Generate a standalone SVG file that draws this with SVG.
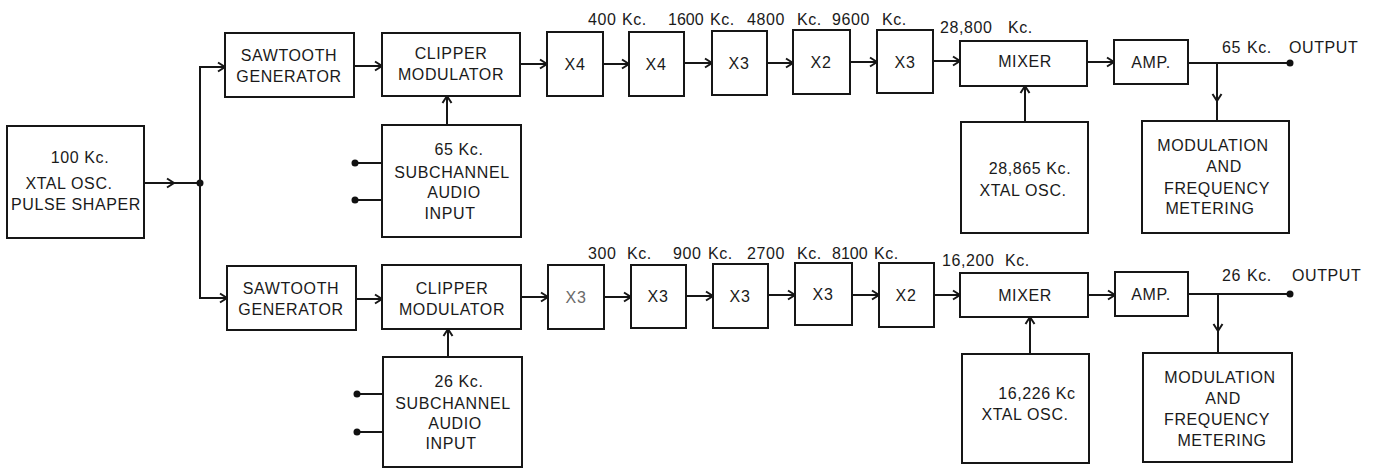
<svg xmlns="http://www.w3.org/2000/svg" width="1375" height="469" viewBox="0 0 1375 469">
<defs>
<marker id="ah" markerUnits="userSpaceOnUse" markerWidth="12" markerHeight="12" viewBox="0 0 12 12" refX="9" refY="6" orient="auto">
<path d="M2,1.5 L9,6 L2,10.5" fill="none" stroke="#161616" stroke-width="2"/>
</marker>
<style>
rect{fill:#fff;stroke:#161616;stroke-width:2}
text{font-family:"Liberation Sans",Arial,sans-serif;font-size:16px;fill:#1a1a1a;letter-spacing:0.6px}
.c{text-anchor:middle}
.n{letter-spacing:0}
.gray{fill:#6a6a6a}
.ln{fill:none;stroke:#161616;stroke-width:2}
.ar{fill:none;stroke:#161616;stroke-width:2;marker-end:url(#ah)}
.am{fill:none;stroke:#161616;stroke-width:2;marker-mid:url(#ah)}
.dot{fill:#111}
</style>
</defs>
<rect x="0" y="0" width="1375" height="469" style="fill:#fff;stroke:none"/>

<g id="connectors">
<path class="am" d="M144,183 L174,183 L200,183"/>
<circle class="dot" cx="200" cy="183" r="3.5"/>
<path class="ar" d="M200,183 V67 H225"/>
<path class="ar" d="M200,183 V298 H227"/>
<path class="ar" d="M354,66 H382"/>
<path class="ar" d="M447,125 V96"/>
<path class="ln" d="M355,163 H382 M355,200 H382"/>
<circle class="dot" cx="355" cy="163" r="3.5"/>
<circle class="dot" cx="355" cy="200" r="3.5"/>
<path class="ar" d="M520,64 H547"/>
<path class="ar" d="M603,64 H629"/>
<path class="ar" d="M684,63 H712"/>
<path class="ar" d="M767,63 H793"/>
<path class="ar" d="M850,62 H877"/>
<path class="ar" d="M933,61 H960"/>
<path class="ar" d="M1087,62 H1114"/>
<path class="ar" d="M1025,122 V86"/>
<path class="ln" d="M1188,63 H1290"/>
<circle class="dot" cx="1290" cy="63" r="3.5"/>
<path class="am" d="M1217,63 L1217,101 L1217,121"/>
<path class="ar" d="M356,299 H382"/>
<path class="ar" d="M448,357 V329"/>
<path class="ln" d="M357,394 H383 M357,432 H383"/>
<circle class="dot" cx="357" cy="394" r="3.5"/>
<circle class="dot" cx="357" cy="432" r="3.5"/>
<path class="ar" d="M521,297 H548"/>
<path class="ar" d="M604,297 H631"/>
<path class="ar" d="M686,296 H713"/>
<path class="ar" d="M768,295 H795"/>
<path class="ar" d="M852,295 H879"/>
<path class="ar" d="M934,295 H960"/>
<path class="ar" d="M1088,295 H1115"/>
<path class="ar" d="M1030,354 V317"/>
<path class="ln" d="M1188,294 H1290"/>
<circle class="dot" cx="1290" cy="294" r="3.5"/>
<path class="am" d="M1218,294 L1218,331 L1218,353"/>
</g>

<g id="pulse-shaper">
<rect x="7" y="126" width="137" height="112"/>
<text class="c" x="80" y="163">100 Kc.</text>
<text class="c" x="69" y="189">XTAL OSC.</text>
<text class="c" x="76" y="210">PULSE SHAPER</text>
</g>

<g id="sawtooth-1">
<rect x="225" y="33" width="129" height="64"/>
<text class="c" x="289" y="61">SAWTOOTH</text>
<text class="c" x="289" y="82">GENERATOR</text>
</g>
<g id="clipper-1">
<rect x="382" y="33" width="138" height="63"/>
<text class="c" x="451" y="59">CLIPPER</text>
<text class="c" x="451" y="80">MODULATOR</text>
</g>
<g id="subchannel-1">
<rect x="382" y="125" width="139" height="112"/>
<text class="c" x="459" y="155">65 Kc.</text>
<text class="c" x="452" y="178">SUBCHANNEL</text>
<text class="c" x="454" y="198">AUDIO</text>
<text class="c" x="450" y="219">INPUT</text>
</g>
<g id="mult-1a"><rect x="547" y="32" width="56" height="64"/><text class="c" x="575" y="70">X4</text></g>
<g id="mult-1b"><rect x="629" y="32" width="55" height="64"/><text class="c" x="656" y="70">X4</text></g>
<g id="mult-1c"><rect x="712" y="31" width="55" height="64"/><text class="c" x="739" y="69">X3</text></g>
<g id="mult-1d"><rect x="793" y="30" width="57" height="64"/><text class="c" x="821" y="68">X2</text></g>
<g id="mult-1e"><rect x="877" y="30" width="56" height="63"/><text class="c" x="905" y="68">X3</text></g>
<g id="freq-labels-1">
<text y="25"><tspan x="588">400</tspan><tspan x="622">Kc.</tspan></text>
<text y="25"><tspan class="n" x="668">1600</tspan><tspan x="710">Kc.</tspan></text>
<text y="25"><tspan x="747">4800</tspan><tspan x="797">Kc.</tspan></text>
<text y="25"><tspan x="832">9600</tspan><tspan x="882">Kc.</tspan></text>
<text y="33"><tspan x="940">28,800</tspan><tspan x="1008">Kc.</tspan></text>
<text y="53"><tspan x="1222">65</tspan><tspan x="1247">Kc.</tspan><tspan x="1289">OUTPUT</tspan></text>
</g>
<g id="mixer-1">
<rect x="960" y="41" width="127" height="45"/>
<text class="c" x="1025" y="67">MIXER</text>
</g>
<g id="amp-1">
<rect x="1114" y="40" width="74" height="44"/>
<text class="c" x="1151" y="68">AMP.</text>
</g>
<g id="xtal-1">
<rect x="961" y="122" width="127" height="111"/>
<text class="c" x="1030" y="174">28,865 Kc.</text>
<text class="c" x="1023" y="196">XTAL OSC.</text>
</g>
<g id="metering-1">
<rect x="1142" y="121" width="147" height="112"/>
<text class="c" x="1213" y="151">MODULATION</text>
<text class="c" x="1224" y="172">AND</text>
<text class="c" x="1217" y="194">FREQUENCY</text>
<text class="c" x="1210" y="214">METERING</text>
</g>

<g id="sawtooth-2">
<rect x="227" y="266" width="129" height="64"/>
<text class="c" x="291" y="294">SAWTOOTH</text>
<text class="c" x="291" y="315">GENERATOR</text>
</g>
<g id="clipper-2">
<rect x="382" y="265" width="139" height="64"/>
<text class="c" x="452" y="294">CLIPPER</text>
<text class="c" x="452" y="315">MODULATOR</text>
</g>
<g id="subchannel-2">
<rect x="383" y="357" width="139" height="110"/>
<text class="c" x="459" y="387">26 Kc.</text>
<text class="c" x="453" y="409">SUBCHANNEL</text>
<text class="c" x="455" y="429">AUDIO</text>
<text class="c" x="451" y="449">INPUT</text>
</g>
<g id="mult-2a"><rect x="548" y="265" width="56" height="64"/><text class="c gray" x="576" y="303">X3</text></g>
<g id="mult-2b"><rect x="631" y="265" width="55" height="63"/><text class="c" x="658" y="302">X3</text></g>
<g id="mult-2c"><rect x="713" y="264" width="55" height="64"/><text class="c" x="740" y="302">X3</text></g>
<g id="mult-2d"><rect x="795" y="263" width="57" height="62"/><text class="c" x="823" y="300">X3</text></g>
<g id="mult-2e"><rect x="879" y="263" width="55" height="64"/><text class="c" x="906" y="301">X2</text></g>
<g id="freq-labels-2">
<text y="259"><tspan x="588">300</tspan><tspan x="627">Kc.</tspan></text>
<text y="259"><tspan x="673">900</tspan><tspan x="708">Kc.</tspan></text>
<text y="259"><tspan x="747">2700</tspan><tspan x="797">Kc.</tspan></text>
<text y="259"><tspan class="n" x="832">8100</tspan><tspan x="874">Kc.</tspan></text>
<text y="266"><tspan x="942">16,200</tspan><tspan x="1005">Kc.</tspan></text>
<text y="281"><tspan x="1222">26</tspan><tspan x="1247">Kc.</tspan><tspan x="1292">OUTPUT</tspan></text>
</g>
<g id="mixer-2">
<rect x="960" y="273" width="128" height="44"/>
<text class="c" x="1025" y="301">MIXER</text>
</g>
<g id="amp-2">
<rect x="1115" y="272" width="73" height="44"/>
<text class="c" x="1151" y="300">AMP.</text>
</g>
<g id="xtal-2">
<rect x="962" y="354" width="127" height="109"/>
<text class="c" x="1037" y="399">16,226 Kc</text>
<text class="c" x="1025" y="420">XTAL OSC.</text>
</g>
<g id="metering-2">
<rect x="1143" y="353" width="149" height="109"/>
<text class="c" x="1220" y="383">MODULATION</text>
<text class="c" x="1223" y="404">AND</text>
<text class="c" x="1217" y="425">FREQUENCY</text>
<text class="c" x="1222" y="446">METERING</text>
</g>
</svg>
